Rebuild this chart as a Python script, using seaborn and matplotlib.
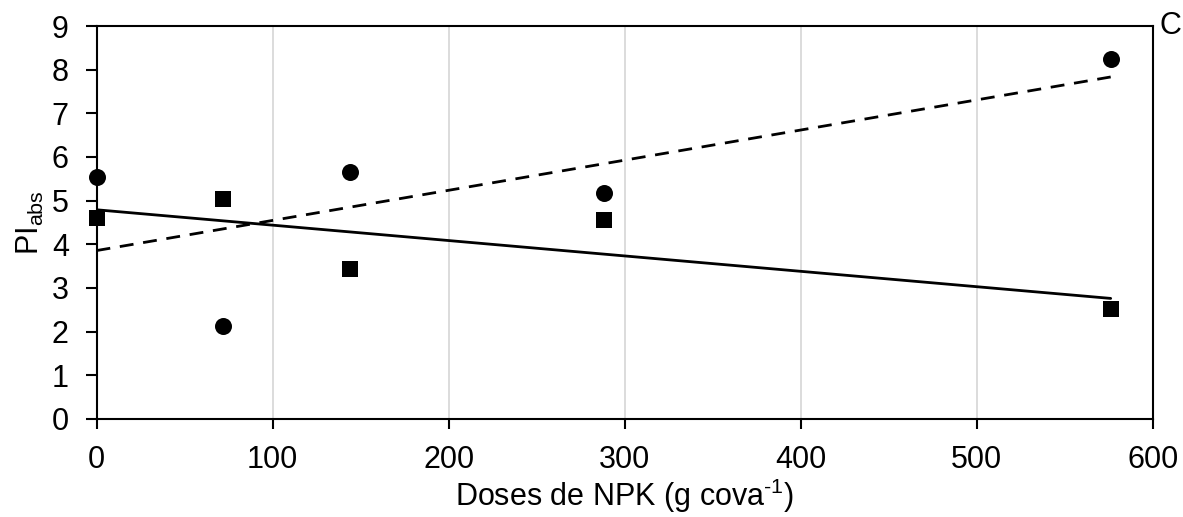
import matplotlib
matplotlib.use("Agg")
import matplotlib.pyplot as plt
import numpy as np
import pandas as pd
import seaborn as sns

doses = [0, 72, 144, 288, 576]
pi_circle = [5.55, 2.12, 5.65, 5.17, 8.25]
pi_square = [4.60, 5.04, 3.43, 4.56, 2.52]

sns.set_style("ticks")
plt.rcParams['font.family'] = ['Liberation Sans', 'DejaVu Sans']
plt.rcParams['mathtext.fontset'] = 'custom'
plt.rcParams['mathtext.rm'] = 'Liberation Sans'
plt.rcParams['mathtext.it'] = 'Liberation Sans:italic'
plt.rcParams['text.color'] = 'black'
plt.rcParams['axes.labelcolor'] = 'black'

df = pd.DataFrame({"dose": doses, "circle": pi_circle, "square": pi_square})

fig = plt.figure(figsize=(11.83, 5.17), dpi=100)
ax = fig.add_axes([0.0816, 0.1896, 0.893, 0.7601])

for x in [100, 200, 300, 400, 500]:
    ax.axvline(x, color='#d9d9d9', lw=1.3, zorder=0)

sns.regplot(data=df, x="dose", y="circle", ci=None, truncate=True, ax=ax,
            marker='o', color='black',
            scatter_kws={'s': 150, 'alpha': 1, 'linewidths': 0, 'zorder': 3, 'clip_on': False},
            line_kws={'lw': 2, 'linestyle': (0, (5, 3.5)), 'zorder': 2})
sns.regplot(data=df, x="dose", y="square", ci=None, truncate=True, ax=ax,
            marker='s', color='black',
            scatter_kws={'s': 140, 'alpha': 1, 'linewidths': 0, 'zorder': 3, 'clip_on': False},
            line_kws={'lw': 2, 'zorder': 2})

ax.set_xlim(0, 600)
ax.set_ylim(0, 9)
ax.set_xticks(range(0, 601, 100))
ax.set_yticks(range(0, 10))
ax.tick_params(axis='both', labelsize=22, colors='black', direction='out', width=1.5)
ax.tick_params(axis='y', length=8, pad=12)
ax.tick_params(axis='x', length=7, pad=12)
for s in ax.spines.values():
    s.set_visible(True)
    s.set_color('black')
    s.set_linewidth(1.5)

ax.set_xlabel("Doses de NPK (g cova$^{\\text{-}1}$)", fontsize=22, labelpad=1)
ax.set_ylabel("PI$_{\\mathrm{abs}}$", fontsize=22, labelpad=4)
ax.text(1.006, 1.0, "C", transform=ax.transAxes, ha='left', va='center', fontsize=22)

fig.savefig("out.png", dpi=100)
